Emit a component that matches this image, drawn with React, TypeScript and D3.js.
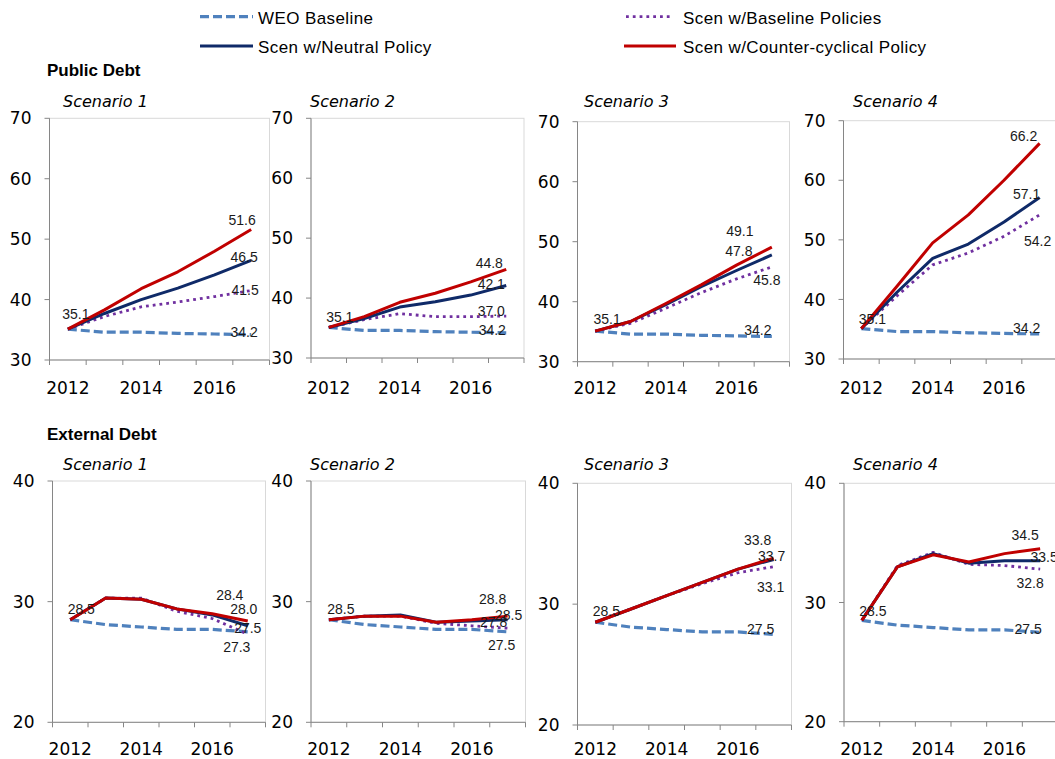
import React from 'react';
import { scaleBand, scaleLinear, line } from 'd3';

const years = [2012, 2013, 2014, 2015, 2016, 2017];
const tickYears = [2012, 2014, 2016];
const scenarios = ['Scenario 1', 'Scenario 2', 'Scenario 3', 'Scenario 4'];
const seriesNames = [
  'WEO Baseline',
  'Scen w/Baseline Policies',
  'Scen w/Neutral Policy',
  'Scen w/Counter-cyclical Policy',
];

// public debt, % of GDP
const publicWeo = [35.1, 34.6, 34.6, 34.4, 34.3, 34.2];
const publicS1Baseline = [35.1, 37.2, 38.8, 39.6, 40.5, 41.5];
const publicS1Neutral = [35.1, 37.7, 40.0, 41.9, 44.1, 46.5];
const publicS1Counter = [35.1, 38.3, 41.8, 44.6, 48.0, 51.6];
const publicS2Baseline = [35.1, 36.4, 37.4, 36.9, 36.9, 37.0];
const publicS2Neutral = [35.1, 36.6, 38.5, 39.4, 40.5, 42.1];
const publicS2Counter = [35.1, 36.9, 39.3, 40.8, 42.7, 44.8];
const publicS3Baseline = [35.1, 36.4, 38.9, 41.5, 43.8, 45.8];
const publicS3Neutral = [35.1, 36.7, 39.5, 42.5, 45.2, 47.8];
const publicS3Counter = [35.1, 36.7, 39.7, 42.8, 46.1, 49.1];
const publicS4Baseline = [35.1, 40.6, 45.8, 47.8, 50.6, 54.2];
const publicS4Neutral = [35.1, 41.2, 46.9, 49.3, 53.0, 57.1];
const publicS4Counter = [35.1, 42.2, 49.5, 54.2, 60.0, 66.2];

// external debt, % of GDP
const externalWeo = [28.5, 28.1, 27.9, 27.7, 27.7, 27.5];
const externalS1Baseline = [28.5, 30.3, 30.3, 29.2, 28.6, 27.3];
const externalS1Neutral = [28.5, 30.3, 30.2, 29.4, 28.9, 28.0];
const externalS1Counter = [28.5, 30.3, 30.2, 29.4, 29.0, 28.4];
const externalS2Baseline = [28.5, 28.8, 28.8, 28.2, 28.0, 27.8];
const externalS2Neutral = [28.5, 28.8, 28.9, 28.3, 28.4, 28.5];
const externalS2Counter = [28.5, 28.8, 28.8, 28.3, 28.5, 28.8];
const externalS3Baseline = [28.5, 29.6, 30.7, 31.7, 32.6, 33.1];
const externalS3Neutral = [28.5, 29.6, 30.7, 31.8, 32.9, 33.7];
const externalS3Counter = [28.5, 29.6, 30.7, 31.8, 32.9, 33.8];
const externalS4Baseline = [28.5, 33.1, 34.2, 33.2, 33.1, 32.8];
const externalS4Neutral = [28.5, 33.0, 34.1, 33.3, 33.5, 33.5];
const externalS4Counter = [28.5, 33.0, 34.0, 33.4, 34.1, 34.5];

const publicTicks = [30, 40, 50, 60, 70];
const externalTicks = [20, 30, 40];

const rows = [
  {
    title: 'Public Debt',
    domain: [30, 70],
    ticks: publicTicks,
    series: [
      [publicWeo, publicS1Baseline, publicS1Neutral, publicS1Counter],
      [publicWeo, publicS2Baseline, publicS2Neutral, publicS2Counter],
      [publicWeo, publicS3Baseline, publicS3Neutral, publicS3Counter],
      [publicWeo, publicS4Baseline, publicS4Neutral, publicS4Counter],
    ],
  },
  {
    title: 'External Debt',
    domain: [20, 40],
    ticks: externalTicks,
    series: [
      [externalWeo, externalS1Baseline, externalS1Neutral, externalS1Counter],
      [externalWeo, externalS2Baseline, externalS2Neutral, externalS2Counter],
      [externalWeo, externalS3Baseline, externalS3Neutral, externalS3Counter],
      [externalWeo, externalS4Baseline, externalS4Neutral, externalS4Counter],
    ],
  },
];

// layout (pixels)
const boxLeft = [[49.5, 311, 577.5, 843.5], [52.5, 311, 577.5, 844]];
const boxWidth = [[220, 213, 212, 214], [213, 214.5, 214, 214]];
const boxTop = [[118.3, 118.3, 121.7, 120.7], [481, 481, 483.3, 483.3]];
const boxBottom = [[360, 358, 361.7, 359], [722.3, 722.3, 725, 721.7]];
const rowTitleY = [76, 439.5];
const scenTitleY = [107, 470];
const scenTitleX = [63, 310, 584, 853];
const yearLabelY = [394, 755];

// data label shifts [dx, dy]: first point, then end of each series
const startShift = [
  [[8, -10], [11, -5], [12, -7], [11, -5]],
  [[11, -6], [12, -6], [11, -6], [11, -4]],
];
const endShift = [
  [
    [[-7, 2], [-6, 4], [-7, 1.5], [-9, -4]],
    [[-14, 2], [-15, 0], [-15, 4], [-17, -1]],
    [[-14, -1.5], [-5, 18], [-33, 1], [-32, -11]],
    [[-13, -1], [-2, 31], [-13, 1.5], [-16, -2]],
  ],
  [
    [[0, 1], [-11, 18], [-4, -12], [-18, -21]],
    [[-6, 18], [-14, -1], [1, 0], [-15, -12]],
    [[-13, 0], [-3, 25], [-2, 2], [-16, -13]],
    [[-12, 2], [-10, 19], [4, 1], [-15, -9]],
  ],
];

const styles = [
  { color: '#4f81bd', width: 3.2, dash: '9 4' },
  { color: '#7030a0', width: 2.8, dash: '2.8 4' },
  { color: '#0f2a68', width: 3, dash: undefined },
  { color: '#c00000', width: 3, dash: undefined },
];

const axisFont = 'DejaVu Sans';
const labelFont = 'Liberation Sans, Arial, sans-serif';
const gray = '#868686';

function Panel({ r, c }: { r: number; c: number }) {
  const row = rows[r];
  const left = boxLeft[r][c];
  const right = left + boxWidth[r][c];
  const top = boxTop[r][c];
  const bottom = boxBottom[r][c];

  const x = scaleBand<number>().domain(years).range([left, right]).padding(0);
  const y = scaleLinear().domain(row.domain).range([bottom, top]);
  const cx = (yr: number) => (x(yr) as number) + x.bandwidth() / 2;

  const path = line<number>()
    .x((_, i) => cx(years[i]))
    .y((v) => y(v));

  const bounds = years.map((yr) => x(yr) as number).concat([right]);
  const data = row.series[c];
  const last = years.length - 1;

  return (
    <g>
      <text x={scenTitleX[c]} y={scenTitleY[r]} fontFamily={axisFont} fontStyle="italic" fontSize={16} fill="#000">
        {scenarios[c]}
      </text>
      <rect x={left} y={top} width={right - left} height={bottom - top} fill="none" stroke="#d9d9d9" strokeWidth={1} />
      <line x1={left} x2={left} y1={top} y2={bottom} stroke={gray} strokeWidth={1} />
      <line x1={left} x2={right} y1={bottom} y2={bottom} stroke={gray} strokeWidth={1} />
      {row.ticks.map((t) => (
        <g key={t}>
          <line x1={left - 5} x2={left} y1={y(t)} y2={y(t)} stroke={gray} />
          <text x={left - 18} y={y(t)} dy="0.36em" textAnchor="end" fontFamily={axisFont} fontSize={17} fill="#000">
            {t}
          </text>
        </g>
      ))}
      {bounds.map((bx, i) => (
        <line key={i} x1={bx} x2={bx} y1={bottom} y2={bottom + 5} stroke={gray} />
      ))}
      {tickYears.map((yr) => (
        <text key={yr} x={cx(yr)} y={yearLabelY[r]} textAnchor="middle" fontFamily={axisFont} fontSize={17} fill="#000">
          {yr}
        </text>
      ))}
      {data.map((vals, s) => (
        <path
          key={s}
          d={path(vals) as string}
          fill="none"
          stroke={styles[s].color}
          strokeWidth={styles[s].width}
          strokeDasharray={styles[s].dash}
          strokeLinejoin="round"
        />
      ))}
      <text
        x={cx(years[0]) + startShift[r][c][0]}
        y={y(data[0][0]) + startShift[r][c][1]}
        textAnchor="middle"
        fontFamily={labelFont}
        fontSize={14}
        fill="#1a1a1a"
      >
        {data[0][0].toFixed(1)}
      </text>
      {data.map((vals, s) => (
        <text
          key={s}
          x={cx(years[last]) + endShift[r][c][s][0]}
          y={y(vals[last]) + endShift[r][c][s][1]}
          textAnchor="middle"
          fontFamily={labelFont}
          fontSize={14}
          fill="#1a1a1a"
        >
          {vals[last].toFixed(1)}
        </text>
      ))}
    </g>
  );
}

const legendPos = [
  { x1: 200, x2: 253, y: 16.7, tx: 258, ty: 24.3 },
  { x1: 626, x2: 670, y: 16.7, tx: 683, ty: 24.3 },
  { x1: 200, x2: 253, y: 46, tx: 258, ty: 53.3 },
  { x1: 624, x2: 676, y: 46, tx: 683, ty: 53.3 },
];

export default function App() {
  return (
    <svg
      width={1055}
      height={759}
      style={{ position: 'absolute', left: 0, top: 0, display: 'block', background: '#fff' }}
    >
      {seriesNames.map((name, i) => (
        <g key={name}>
          <line
            x1={legendPos[i].x1}
            x2={legendPos[i].x2}
            y1={legendPos[i].y}
            y2={legendPos[i].y}
            stroke={styles[i].color}
            strokeWidth={styles[i].width}
            strokeDasharray={styles[i].dash}
          />
          <text x={legendPos[i].tx} y={legendPos[i].ty} fontFamily={labelFont} fontSize={17} letterSpacing={0.4} fill="#000">
            {name}
          </text>
        </g>
      ))}
      {rows.map((row, r) => (
        <g key={row.title}>
          <text x={47} y={rowTitleY[r]} fontFamily={labelFont} fontWeight="bold" fontSize={17} fill="#000">
            {row.title}
          </text>
          {scenarios.map((_, c) => (
            <Panel key={c} r={r} c={c} />
          ))}
        </g>
      ))}
    </svg>
  );
}
